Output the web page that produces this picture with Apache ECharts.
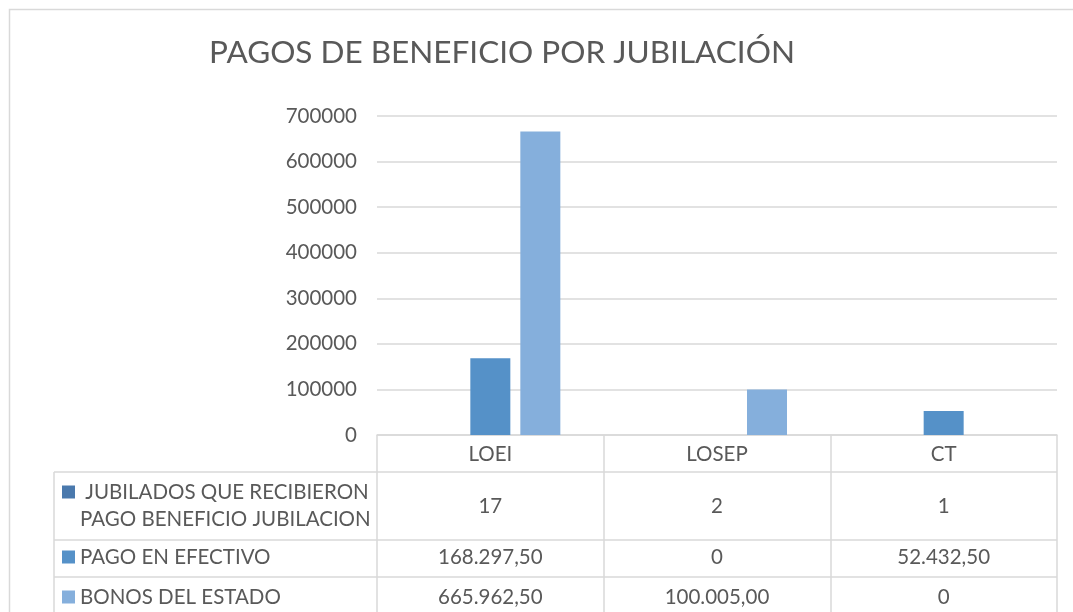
<!DOCTYPE html>
<html><head><meta charset="utf-8">
<script src="https://cdn.jsdelivr.net/npm/echarts@6/dist/echarts.min.js"></script>
<style>html,body{margin:0;padding:0;background:#fff}#c{width:1073px;height:612px}</style>
</head><body><div id="c"></div>
<script>
const categories = ['LOEI', 'LOSEP', 'CT'];
const seriesNames = ['JUBILADOS QUE RECIBIERON PAGO BENEFICIO JUBILACION', 'PAGO EN EFECTIVO', 'BONOS DEL ESTADO'];
const jubilados = [17, 2, 1];
const pagoEfectivo = [168297.50, 0, 52432.50];
const bonosEstado = [665962.50, 100005.00, 0];
const yMax = 700000;
const yStep = 100000;
const colors = ['#4a79ad', '#5591c8', '#85afdc'];

const FONT = 'Lato';
const TXT = '#595959';
const LINE = '#d9d9d9';
const FS = 20.5;

function fmtEs(v, decimals) {
  if (v === 0) return '0';
  const fixed = v.toFixed(decimals);
  let [ip, dp] = fixed.split('.');
  ip = ip.replace(/\B(?=(\d{3})+(?!\d))/g, '.');
  return dp ? ip + ',' + dp : ip;
}

const seriesData = [jubilados, pagoEfectivo, bonosEstado];
const seriesDecimals = [0, 2, 2];

// Layout
const gridLeft = 377, gridRight = 1057, gridTop = 116, gridBottomY = 435;
const tableLeft = 54;
const rowLines = [472, 540, 577];
const rowCenters = [506, 557, 597];

const chart = echarts.init(document.getElementById('c'));

const option = {
  animation: false,
  backgroundColor: '#fff',
  textStyle: { fontFamily: FONT },
  title: {
    text: 'PAGOS DE BENEFICIO POR JUBILACIÓN',
    left: 497, top: 32, textAlign: 'center',
    textStyle: { fontFamily: FONT, fontSize: 31.5, fontWeight: 'normal', color: TXT }
  },
  grid: { left: gridLeft, right: 1073 - gridRight, top: gridTop, bottom: 612 - gridBottomY, containLabel: false },
  xAxis: {
    type: 'category', data: categories,
    axisLine: { show: true, lineStyle: { color: LINE, width: 1.5 } },
    axisTick: { show: true, length: 180, lineStyle: { color: LINE, width: 1.5 } },
    axisLabel: { color: TXT, fontFamily: FONT, fontSize: FS, margin: 9 }
  },
  yAxis: {
    type: 'value', min: 0, max: yMax, interval: yStep,
    axisLine: { show: false }, axisTick: { show: false },
    splitLine: { lineStyle: { color: LINE, width: 1.5 } },
    axisLabel: { color: TXT, fontFamily: FONT, fontSize: FS, margin: 20, formatter: v => String(v) }
  },
  series: seriesData.map((d, i) => ({
    name: seriesNames[i], type: 'bar', data: d,
    barWidth: 40, barGap: '25%',
    itemStyle: { color: colors[i] }
  })),
  graphic: []
};
chart.setOption(option);

// Build data table from arrays
const g = [];
g.push({ type: 'rect', shape: { x: 9.5, y: 9.5, width: 1100, height: 700 }, style: { fill: 'none', stroke: LINE, lineWidth: 1.5 }, silent: true });
rowLines.forEach(y => g.push({ type: 'line', shape: { x1: tableLeft, y1: y, x2: gridRight, y2: y }, style: { stroke: LINE, lineWidth: 1.5 }, silent: true }));
g.push({ type: 'line', shape: { x1: tableLeft, y1: rowLines[0], x2: tableLeft, y2: 620 }, style: { stroke: LINE, lineWidth: 1.5 }, silent: true });

const labelLines = [[' JUBILADOS QUE RECIBIERON', 'PAGO BENEFICIO JUBILACION'], ['PAGO EN EFECTIVO'], ['BONOS DEL ESTADO']];
const keyY = [492, 557, 597];
labelLines.forEach((lines, i) => {
  g.push({ type: 'rect', shape: { x: 62, y: keyY[i] - 6.5, width: 13, height: 13 }, style: { fill: colors[i] }, silent: true });
  lines.forEach((t, j) => {
    const y = lines.length > 1 ? (j === 0 ? 492 : 519) : rowCenters[i];
    g.push({ type: 'text', x: 80, y: y, style: { text: t, font: FS + 'px ' + FONT, fill: TXT, textAlign: 'left', textVerticalAlign: 'middle' }, silent: true });
  });
});
seriesData.forEach((d, i) => {
  d.forEach((v, k) => {
    const px = chart.convertToPixel({ xAxisIndex: 0 }, categories[k]);
    g.push({ type: 'text', x: px, y: rowCenters[i], style: { text: fmtEs(v, seriesDecimals[i]), font: FS + 'px ' + FONT, fill: TXT, textAlign: 'center', textVerticalAlign: 'middle' }, silent: true });
  });
});
chart.setOption({ graphic: g });
</script>
</body></html>
